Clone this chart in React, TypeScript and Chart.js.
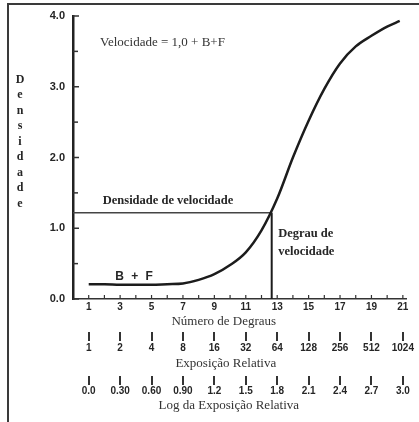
import React, { useEffect, useRef } from "react";
import { Chart, registerables } from "chart.js";

Chart.register(...registerables);

// Characteristic curve (H&D): density vs step number
const steps = [1, 2, 3, 4, 5, 6, 7, 8, 9, 10, 11, 12, 13, 14, 15, 16, 17, 18, 19, 20, 20.8];
const density = [0.21, 0.21, 0.2, 0.2, 0.2, 0.21, 0.22, 0.27, 0.35, 0.48, 0.66, 0.97, 1.42, 2.0, 2.52, 2.97, 3.33, 3.57, 3.72, 3.85, 3.93];

// Speed point
const speedStep = 12.65;
const speedDensity = 1.22;

// Axis labels
const stepLabels = [1, 3, 5, 7, 9, 11, 13, 15, 17, 19, 21];
const minorSteps = [1, 2, 3, 4, 5, 6, 7, 8, 9, 10, 11, 12, 13, 14, 15, 16, 17, 18, 19, 20, 21];
const exposureLabels = ["1", "2", "4", "8", "16", "32", "64", "128", "256", "512", "1024"];
const logLabels = ["0.0", "0.30", "0.60", "0.90", "1.2", "1.5", "1.8", "2.1", "2.4", "2.7", "3.0"];
const densityTicks = [0, 0.5, 1, 1.5, 2, 2.5, 3, 3.5, 4];

const yTitle = "Densidade";
const xTitle1 = "Número de Degraus";
const xTitle2 = "Exposição Relativa";
const xTitle3 = "Log da Exposição Relativa";
const formulaText = "Velocidade = 1,0 + B+F";
const speedDensityText = "Densidade de velocidade";
const fogText = "B + F";
const speedStepText = ["Degrau de", "velocidade"];

const SERIF = '"Liberation Serif", "DejaVu Serif", serif';
const SANS = '"Liberation Sans", Arial, sans-serif';
const INK = "#262626";

const decorPlugin = {
  id: "decor",
  afterDraw(chart: any) {
    const { ctx, scales } = chart;
    const x = scales.x;
    const y = scales.y;
    const x2 = scales.x2;
    const x3 = scales.x3;
    ctx.save();
    // inward tick marks on the main axes
    ctx.strokeStyle = "#333";
    ctx.lineWidth = 1.2;
    minorSteps.forEach((v) => {
      const px = x.getPixelForValue(v);
      ctx.beginPath();
      ctx.moveTo(px, y.bottom);
      ctx.lineTo(px, y.bottom - 4);
      ctx.stroke();
    });
    ctx.lineWidth = 1.5;
    densityTicks.forEach((v) => {
      const py = y.getPixelForValue(v);
      const len = v % 1 === 0 ? 6 : 5;
      ctx.beginPath();
      ctx.moveTo(x.left, py);
      ctx.lineTo(x.left + len, py);
      ctx.stroke();
    });

    ctx.fillStyle = INK;
    ctx.textBaseline = "middle";

    // vertical stacked y title
    ctx.font = `bold 12px ${SERIF}`;
    ctx.textAlign = "center";
    const letters = yTitle.split("");
    letters.forEach((ch, i) => {
      ctx.fillText(ch, x.left - 53, y.getPixelForValue(3.1) + i * 15.5);
    });

    // axis titles
    ctx.font = `13px ${SERIF}`;
    ctx.fillStyle = "#333";
    const tx = x.getPixelForValue(9.6);
    ctx.fillText(xTitle1, tx, x.top + 23);
    ctx.fillText(xTitle2, tx + 2, x2.top + 32);
    ctx.fillText(xTitle3, tx + 5, x3.top + 30);

    // annotations
    ctx.textAlign = "left";
    ctx.fillText(formulaText, x.getPixelForValue(1.72), y.getPixelForValue(3.63));

    ctx.fillStyle = INK;
    ctx.font = `bold 12.5px ${SERIF}`;
    ctx.textAlign = "center";
    ctx.fillText(speedDensityText, x.getPixelForValue(6.05), y.getPixelForValue(1.385));

    ctx.textAlign = "left";
    ctx.fillText(speedStepText[0], x.getPixelForValue(13.06), y.getPixelForValue(0.92));
    ctx.fillText(speedStepText[1], x.getPixelForValue(13.06), y.getPixelForValue(0.67));

    ctx.font = `bold 12px ${SANS}`;
    ctx.textAlign = "center";
    try {
      (ctx as any).letterSpacing = "2px";
    } catch (e) {}
    ctx.fillText(fogText, x.getPixelForValue(3.95), y.getPixelForValue(0.31));
    ctx.restore();
  },
};

const tickFont = { family: SANS, size: 10, weight: "bold" as const };

function makeRow(weight: number, labels: string[], height: number, pad: number) {
  return {
    type: "linear" as const,
    position: "bottom" as const,
    weight,
    min: 0,
    max: 21.2,
    afterBuildTicks: (s: any) => {
      s.ticks = stepLabels.map((v) => ({ value: v }));
    },
    afterFit: (s: any) => {
      s.height = height;
    },
    grid: {
      display: true,
      drawOnChartArea: false,
      drawTicks: true,
      tickLength: 9,
      lineWidth: 2,
      color: "#333",
    },
    border: { display: false },
    ticks: {
      autoSkip: false,
      maxRotation: 0,
      padding: pad,
      color: INK,
      font: tickFont,
      callback: (v: any) => {
        const i = stepLabels.indexOf(Number(v));
        return i >= 0 ? labels[i] : "";
      },
    },
  };
}

export default function App() {
  const ref = useRef<HTMLCanvasElement | null>(null);
  useEffect(() => {
    if (!ref.current) return;
    const chart = new Chart(ref.current, {
      type: "line",
      data: {
        datasets: [
          {
            data: steps.map((s, i) => ({ x: s, y: density[i] })),
            borderColor: "#1c1c1c",
            borderWidth: 2.5,
            pointRadius: 0,
            cubicInterpolationMode: "monotone",
            xAxisID: "x",
            yAxisID: "y",
          },
          {
            data: [
              { x: 0, y: speedDensity },
              { x: speedStep, y: speedDensity },
            ],
            borderColor: "#444",
            borderWidth: 1.4,
            pointRadius: 0,
            xAxisID: "x",
            yAxisID: "y",
          },
          {
            data: [
              { x: speedStep, y: 0 },
              { x: speedStep, y: speedDensity },
            ],
            borderColor: "#1c1c1c",
            borderWidth: 2,
            pointRadius: 0,
            xAxisID: "x",
            yAxisID: "y",
          },
        ],
      },
      options: {
        responsive: false,
        animation: false,
        devicePixelRatio: 1,
        layout: { padding: { left: 0, top: 16, right: 13, bottom: 10 } },
        plugins: { legend: { display: false }, tooltip: { enabled: false } },
        scales: {
          x: {
            type: "linear",
            position: "bottom",
            weight: 1,
            min: 0,
            max: 21.2,
            afterBuildTicks: (s: any) => {
              s.ticks = minorSteps.map((v) => ({ value: v }));
            },
            afterFit: (s: any) => {
              s.height = 33;
            },
            grid: { display: false, drawTicks: false },
            border: { display: true, color: "#333", width: 1.5 },
            ticks: {
              autoSkip: false,
              maxRotation: 0,
              padding: 2,
              color: INK,
              font: tickFont,
              callback: (v: any) => (stepLabels.includes(Number(v)) ? String(v) : ""),
            },
          },
          x2: makeRow(2, exposureLabels, 44, 1),
          x3: makeRow(3, logLabels, 36, 0),
          y: {
            type: "linear",
            position: "left",
            min: 0,
            max: 4,
            afterBuildTicks: (s: any) => {
              s.ticks = densityTicks.map((v) => ({ value: v }));
            },
            afterFit: (s: any) => {
              s.width = 73;
            },
            grid: { display: false, drawTicks: false },
            border: { display: true, color: "#222", width: 2.5 },
            ticks: {
              autoSkip: false,
              padding: 8,
              color: INK,
              font: { family: SANS, size: 11, weight: "bold" },
              callback: (v: any) => (Number(v) % 1 === 0 ? Number(v).toFixed(1) : ""),
            },
          },
        },
      },
      plugins: [decorPlugin],
    } as any);
    return () => chart.destroy();
  }, []);

  return (
    <div style={{ position: "fixed", left: 0, top: 0, width: 419, height: 422, background: "#fff" }}>
      <div
        style={{
          position: "absolute",
          left: 7,
          top: 3,
          width: 412,
          height: 419,
          boxSizing: "border-box",
          borderTop: "2px solid #3a3a3a",
          borderLeft: "2px solid #3a3a3a",
        }}
      />
      <canvas ref={ref} width={419} height={422} style={{ position: "absolute", left: 0, top: 0, width: 419, height: 422 }} />
    </div>
  );
}
